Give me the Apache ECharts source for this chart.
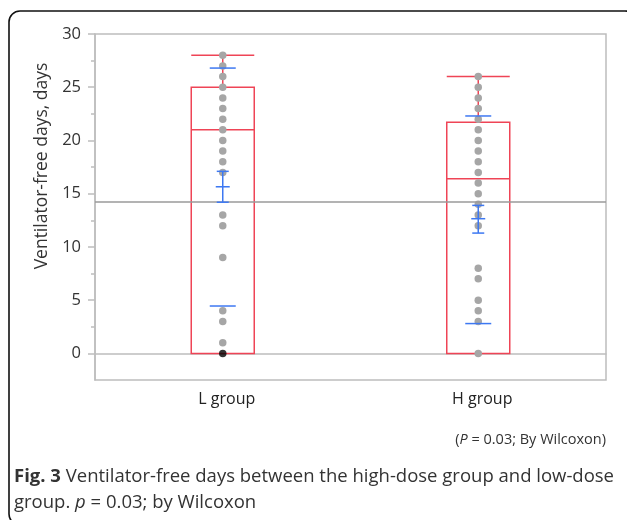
<!DOCTYPE html>
<html>
<head>
<meta charset="utf-8">
<script src="https://cdn.jsdelivr.net/npm/echarts@6/dist/echarts.min.js"></script>
<style>
  html, body { margin: 0; padding: 0; background: #fff; }
  #chart { width: 627px; height: 520px; }
</style>
</head>
<body>
<div id="chart"></div>
<script>
// groups on the x axis
const groups = ['L group', 'H group']

// box plot: [min, Q1, median, Q3, max]
const lBox = [0, 0, 21, 25, 28]
const hBox = [0, 0, 16.4, 21.7, 26]

// individual (distinct) values per group
const lValues = [28, 27, 26, 25, 24, 23, 22, 21, 20, 19, 18, 17, 13, 12, 9, 4, 3, 1]
const hValues = [26, 25, 24, 23, 22, 21, 20, 19, 18, 17, 16, 15, 14, 13, 12, 8, 7, 5, 4, 3, 0]
const blackPoint = [0, 0] // [group index, value]

// mean, 95% CI, mean +/- SD
const means = [15.65, 12.65]
const ciLow = [14.2, 11.3]
const ciHigh = [17.1, 13.9]
const sdLow = [4.45, 2.8]
const sdHigh = [26.8, 22.3]

const grandMean = 14.2

const yMajorTicks = [0, 5, 10, 15, 20, 25, 30]
const yMinorTicks = [2.5, 7.5, 12.5, 17.5, 22.5, 27.5]

const red = '#ef4456'
const blue = '#3d78f2'
const font = 'Open Sans'

const chart = echarts.init(document.getElementById('chart'))

const toPairs = (vals, idx) => vals.map(v => [idx, v])

const option = {
  backgroundColor: '#fff',
  animation: false,
  grid: {
    left: 95, top: 34, right: 21, bottom: 140,
    show: true,
    borderColor: '#bdbdbd',
    borderWidth: 1.5
  },
  xAxis: {
    type: 'category',
    data: groups,
    axisLine: { lineStyle: { color: '#bdbdbd', width: 1.5 } },
    axisTick: { show: false },
    axisLabel: { fontSize: 16, color: '#222', fontFamily: font, margin: 11, padding: [0, 0, 0, 8] },
    splitLine: { show: false }
  },
  yAxis: [
    {
      type: 'value',
      min: -2.5,
      max: 30,
      axisLine: { show: true, lineStyle: { color: '#bdbdbd', width: 1.5 } },
      axisTick: { show: true, customValues: yMajorTicks, length: 7, lineStyle: { color: '#bdbdbd', width: 1.5 } },
      axisLabel: { customValues: yMajorTicks, fontSize: 16.5, color: '#333', fontFamily: font, margin: 14 },
      splitLine: { show: false }
    },
    {
      type: 'value',
      min: -2.5,
      max: 30,
      position: 'left',
      axisLine: { show: false },
      axisTick: { show: true, customValues: yMinorTicks, length: 4, lineStyle: { color: '#bdbdbd', width: 1.5 } },
      axisLabel: { show: false },
      splitLine: { show: false }
    }
  ],
  series: [
    {
      type: 'boxplot',
      data: [lBox, hBox],
      boxWidth: [63, 63],
      itemStyle: { color: 'rgba(0,0,0,0)', borderColor: red, borderWidth: 1.5 },
      emphasis: { disabled: true },
      markLine: {
        silent: true,
        symbol: 'none',
        label: { show: false },
        lineStyle: { color: '#9a9a9a', width: 1.5, type: 'solid' },
        data: [{ yAxis: grandMean }]
      },
      z: 2
    },
    {
      type: 'scatter',
      data: toPairs(lValues, 0).concat(toPairs(hValues, 1)),
      symbolSize: 7.5,
      itemStyle: { color: '#a6a6a6', opacity: 1 },
      z: 3
    },
    {
      type: 'scatter',
      data: [blackPoint],
      symbolSize: 7.5,
      itemStyle: { color: '#000' },
      z: 4
    },
    {
      type: 'custom',
      data: groups.map((g, i) => [i, means[i], ciLow[i], ciHigh[i], sdLow[i], sdHigh[i]]),
      z: 5,
      renderItem: (params, api) => {
        const cx = api.coord([api.value(0), 0])[0]
        const y = k => api.coord([api.value(0), api.value(k)])[1]
        const hline = (yy, half) => ({
          type: 'line',
          shape: { x1: cx - half, y1: yy, x2: cx + half, y2: yy },
          style: { stroke: blue, lineWidth: 1.5 }
        })
        return {
          type: 'group',
          children: [
            hline(y(5), 13),
            hline(y(4), 13),
            {
              type: 'line',
              shape: { x1: cx, y1: y(2), x2: cx, y2: y(3) },
              style: { stroke: blue, lineWidth: 1.5 }
            },
            hline(y(2), 6),
            hline(y(3), 6),
            hline(y(1), 7)
          ]
        }
      }
    }
  ],
  graphic: [
    {
      type: 'rect',
      shape: { x: 9, y: 11, width: 627, height: 514, r: 11 },
      style: { fill: 'none', stroke: '#111', lineWidth: 1.6 },
      z: 100
    },
    {
      type: 'text',
      x: 42, y: 166,
      rotation: Math.PI / 2,
      style: {
        text: 'Ventilator-free days, days',
        font: '17.5px "Open Sans"',
        fill: '#333',
        align: 'center',
        verticalAlign: 'middle'
      }
    },
    {
      type: 'text',
      x: 606, y: 440,
      style: {
        text: '({i|P} = 0.03; By Wilcoxon)',
        font: '14.5px "Open Sans"',
        fill: '#333',
        align: 'right',
        verticalAlign: 'middle',
        rich: { i: { fontStyle: 'italic', fontSize: 14.5, fontFamily: font, fill: '#333' } }
      }
    },
    {
      type: 'text',
      x: 14, y: 477,
      style: {
        text: '{b|Fig. 3} Ventilator-free days between the high-dose group and low-dose',
        font: '18.5px "Open Sans"',
        fill: '#333',
        verticalAlign: 'middle',
        rich: { b: { fontWeight: 'bold', fontSize: 18.5, fontFamily: font, fill: '#333' } }
      }
    },
    {
      type: 'text',
      x: 14, y: 503,
      style: {
        text: 'group. {i|p} = 0.03; by Wilcoxon',
        font: '18.5px "Open Sans"',
        fill: '#333',
        verticalAlign: 'middle',
        rich: { i: { fontStyle: 'italic', fontSize: 18.5, fontFamily: font, fill: '#333' } }
      }
    }
  ]
}

chart.setOption(option)
</script>
</body>
</html>
